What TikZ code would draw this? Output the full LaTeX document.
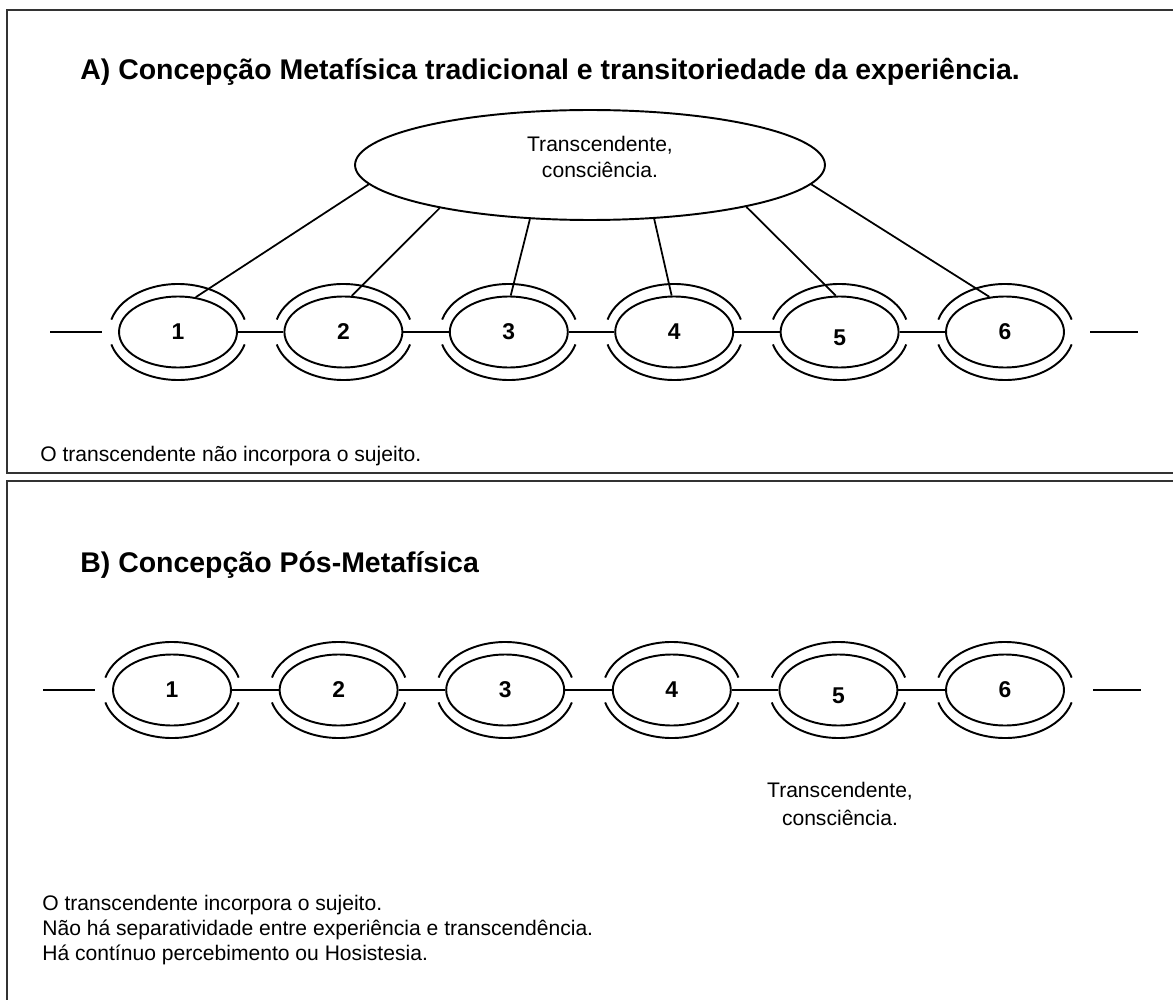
\documentclass[tikz,border=0pt]{standalone}
\usepackage{fontspec}
\setmainfont{Liberation Sans}
\usetikzlibrary{shapes.geometric}
\usetikzlibrary{calc}

\begin{document}
\begin{tikzpicture}[x=0.02cm, y=-0.02cm,
frame/.style={draw=black!80, line width=1.6pt},
heading/.style={anchor=west, inner sep=0pt, font=\fontsize{16.2}{20}\selectfont\bfseries},
remark/.style={anchor=west, inner sep=0pt, align=left, font=\fontsize{12}{14.2}\selectfont},
link/.style={ellipse, draw, line width=1.1pt, inner sep=0pt, minimum width=2.36cm, minimum height=1.42cm},
num/.style={inner sep=0pt, font=\fontsize{13}{16}\selectfont\bfseries},
outer/.style={line width=1.1pt},
bar/.style={line width=1.1pt},
tie/.style={line width=1pt}]

%%%%%% FRAMES %%%%%%%%%%

\useasboundingbox (0,0) rectangle (1173,1000);
\clip (0,0) rectangle (1173,1000);
\draw[frame] (7,10) rectangle (1190,473);
\draw[frame] (7,481) rectangle (1190,1020);

%%%%%% A %%%%%%%%%%

\node[heading] (ta) at (80,72) {A) Concepção Metafísica tradicional e transitoriedade da experiência.};

\node[ellipse, draw, line width=1.1pt, inner sep=0pt, minimum width=9.4cm, minimum height=2.2cm] (big) at (590,165) {};
\node[align=center, inner sep=0pt, font=\fontsize{12}{15}\selectfont] (tbig) at (600,157) {Transcendente,\\consciência.};

\foreach \i/\dy in {1/0,2/0,3/0,4/0,5/6,6/0}{
  \node[link] (a\i) at ({178+165.4*(\i-1)},332) {};
  \node[num] (an\i) at ($(a\i)+(0,\dy)$) {\i};
  \draw[outer] ($(a\i)+(15:69 and 48)$) arc[start angle=15, end angle=165, x radius=69, y radius=48];
  \draw[outer] ($(a\i)+(195:69 and 48)$) arc[start angle=195, end angle=345, x radius=69, y radius=48];
}
\foreach \i [evaluate=\i as \j using int(\i+1)] in {1,...,5}{\draw[bar] (a\i.east) -- (a\j.west);}

\coordinate (al1) at (50,332);  \coordinate (al2) at (102,332);
\coordinate (ar1) at (1090,332); \coordinate (ar2) at (1138,332);
\draw[bar] (al1) -- (al2);
\draw[bar] (ar1) -- (ar2);

\draw[tie] (big.185) -- (a1.63);
\draw[tie] (big.196) -- (a2.77);
\draw[tie] (big.222) -- (a3.87);
\draw[tie] (big.320) -- (a4.94);
\draw[tie] (big.345) -- (a5.96);
\draw[tie] (big.355) -- (a6.114);

\node[remark] (ra) at (40,456) {O transcendente não incorpora o sujeito.};

%%%%%% B %%%%%%%%%%

\node[heading] (tb) at (80,565) {B) Concepção Pós-Metafísica};

\foreach \i/\dy in {1/0,2/0,3/0,4/0,5/6,6/0}{
  \node[link] (b\i) at ({172+166.6*(\i-1)},690) {};
  \node[num] (bn\i) at ($(b\i)+(0,\dy)$) {\i};
  \draw[outer] ($(b\i)+(15:69 and 48)$) arc[start angle=15, end angle=165, x radius=69, y radius=48];
  \draw[outer] ($(b\i)+(195:69 and 48)$) arc[start angle=195, end angle=345, x radius=69, y radius=48];
}
\foreach \i [evaluate=\i as \j using int(\i+1)] in {1,...,5}{\draw[bar] (b\i.east) -- (b\j.west);}

\coordinate (bl1) at (43,690);  \coordinate (bl2) at (95,690);
\coordinate (br1) at (1093,690); \coordinate (br2) at (1141,690);
\draw[bar] (bl1) -- (bl2);
\draw[bar] (br1) -- (br2);

\node[align=center, inner sep=0pt, font=\fontsize{12}{15.5}\selectfont] (tr) at (840,804) {Transcendente,\\consciência.};

\node[remark] (rb) at (42,930) {O transcendente incorpora o sujeito.\\
Não há separatividade entre experiência e transcendência.\\
Há contínuo percebimento ou Hosistesia.};

\end{tikzpicture}
\end{document}
